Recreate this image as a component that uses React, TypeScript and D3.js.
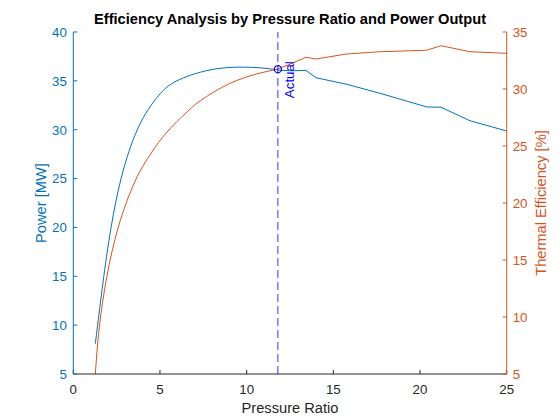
import * as d3 from "d3";

// power curve (pressure ratio, MW)
const powerRatio = [
  1.27, 1.76, 2.19, 2.77, 3.74, 4.9, 5.97, 7.7, 9.46, 11.0, 11.92, 12.6, 13.42, 14.0,
  15.77, 17.69, 20.39, 21.21, 22.88, 25,
];
const powerMW = [
  8.1, 15.0, 20.1, 25.1, 30.2, 33.45, 35.0, 36.05, 36.4, 36.3, 36.08, 36.03, 36.07, 35.32,
  34.65, 33.73, 32.33, 32.3, 30.92, 29.87,
];

// efficiency curve (pressure ratio, %)
const effRatio = [
  1.27, 1.5, 1.93, 2.6, 3.56, 4.5, 5.39, 6.5, 7.5, 9.43, 11.78, 12.69, 13.42, 14.0,
  15.77, 17.69, 20.39, 21.21, 22.88, 25,
];
const efficiencyPct = [
  5.0, 9.1, 13.5, 17.9, 21.9, 24.4, 26.2, 27.9, 29.15, 30.75, 31.75, 32.3, 32.78, 32.63,
  33.07, 33.27, 33.4, 33.8, 33.27, 33.13,
];

const xTicks = [0, 5, 10, 15, 20, 25];
const powerTicks = [5, 10, 15, 20, 25, 30, 35, 40];
const effTicks = [5, 10, 15, 20, 25, 30, 35];

const actualRatio = 11.8;
const actualPower = 36.2;

const BLUE = "#0072BD";
const ORANGE = "#D95319";
const DARK = "#262626";
const FONT = "'Liberation Sans', Arial, Helvetica, sans-serif";

// the low-ratio part is a smooth curve, the rest is joined point to point
const SMOOTH_END = 12;

export default function App() {
  const width = 560;
  const height = 420;
  const left = 73.3;
  const right = 506.7;
  const top = 32;
  const bottom = 374;
  const tick = 4;

  const x = d3.scaleLinear().domain([0, 25]).range([left, right]);
  const yP = d3.scaleLinear().domain([5, 40]).range([bottom, top]);
  const yE = d3.scaleLinear().domain([5, 35]).range([bottom, top]);

  function curvePath(xs: number[], vals: number[], y: d3.ScaleLinear<number, number>) {
    const all = xs.map((r, i) => [r, vals[i]] as [number, number]);
    const k = all.findIndex((p) => p[0] > SMOOTH_END);
    const smooth = all.slice(0, k);
    const rough = all.slice(k - 1);
    const a = d3
      .line<[number, number]>()
      .curve(d3.curveNatural)
      .x((p) => x(p[0]))
      .y((p) => y(p[1]))(smooth);
    const b = d3
      .line<[number, number]>()
      .x((p) => x(p[0]))
      .y((p) => y(p[1]))(rough);
    return (a ?? "") + (b ?? "");
  }

  const cx = (left + right) / 2;
  const cy = (top + bottom) / 2;

  return (
    <svg
      width={width}
      height={height}
      style={{ position: "absolute", left: 0, top: 0, background: "#fff" }}
      fontFamily={FONT}
    >
      <rect width={width} height={height} fill="#fff" />

      {/* curves */}
      <path d={curvePath(powerRatio, powerMW, yP)} fill="none" stroke={BLUE} strokeWidth={1} strokeLinejoin="round" />
      <path d={curvePath(effRatio, efficiencyPct, yE)} fill="none" stroke={ORANGE} strokeWidth={1} strokeLinejoin="round" />

      {/* actual operating point */}
      <line
        x1={x(actualRatio)}
        x2={x(actualRatio)}
        y1={bottom}
        y2={top}
        stroke="#0000FF"
        strokeWidth={0.8}
        strokeDasharray="8,4"
      />
      <circle cx={x(actualRatio)} cy={yP(actualPower)} r={3.6} fill="none" stroke="#0000FF" strokeWidth={1.2} />
      <text
        transform={`translate(${x(actualRatio) + 16},${yP(actualPower) + 29}) rotate(-90)`}
        fontSize={13.3}
        fill="#0000FF"
      >
        Actual
      </text>

      {/* bottom axis */}
      <line x1={left} x2={right} y1={bottom} y2={bottom} stroke={DARK} strokeWidth={1} />
      {xTicks.map((t) => (
        <g key={"x" + t}>
          <line x1={x(t)} x2={x(t)} y1={bottom} y2={bottom - tick} stroke={DARK} />
          <text x={x(t)} y={bottom + 19.5} textAnchor="middle" fontSize={13.3} fill={DARK}>
            {t}
          </text>
        </g>
      ))}

      {/* left axis */}
      <line x1={left} x2={left} y1={top} y2={bottom} stroke={BLUE} strokeWidth={1} />
      {powerTicks.map((t) => (
        <g key={"p" + t}>
          <line x1={left} x2={left + tick} y1={yP(t)} y2={yP(t)} stroke={BLUE} />
          <text x={left - 6.5} y={yP(t) + 4.8} textAnchor="end" fontSize={13.3} fill={BLUE}>
            {t}
          </text>
        </g>
      ))}

      {/* right axis */}
      <line x1={right} x2={right} y1={top} y2={bottom} stroke={ORANGE} strokeWidth={1} />
      {effTicks.map((t) => (
        <g key={"e" + t}>
          <line x1={right} x2={right - tick} y1={yE(t)} y2={yE(t)} stroke={ORANGE} />
          <text x={right + 6} y={yE(t) + 4.8} textAnchor="start" fontSize={13.3} fill={ORANGE}>
            {t}
          </text>
        </g>
      ))}

      {/* labels */}
      <text x={cx} y={413} textAnchor="middle" fontSize={14.67} fill={DARK}>
        Pressure Ratio
      </text>
      <text
        transform={`translate(45.5,${cy}) rotate(-90)`}
        textAnchor="middle"
        fontSize={14.67}
        fill={BLUE}
      >
        Power [MW]
      </text>
      <text
        transform={`translate(546,${cy}) rotate(-90)`}
        textAnchor="middle"
        fontSize={14.67}
        fill={ORANGE}
      >
        Thermal Efficiency [%]
      </text>
      <text x={cx} y={23.5} textAnchor="middle" fontSize={14.67} fontWeight="bold" fill="#000">
        Efficiency Analysis by Pressure Ratio and Power Output
      </text>
    </svg>
  );
}
